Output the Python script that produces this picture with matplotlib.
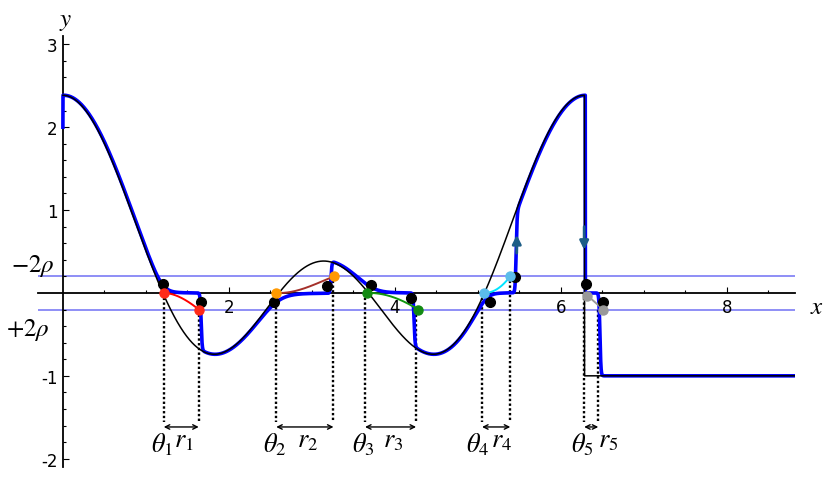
import numpy as np
import matplotlib.pyplot as plt

plt.rcParams['mathtext.fontset'] = 'stix'
plt.rcParams['axes.unicode_minus'] = False

# black curve: f(x) = a1 cos x + a2 cos 2x + c up to x_switch, then constant
cos_coef = [1.0, 1.0]
f_offset = 0.385
x_switch = 2 * np.pi
f_after = -1.0
x_max = 8.82

rho = 0.1
blue_start = 2.0          # blue curve starts here at x = 0

# entry / exit of each slow passage
theta_line = [1.215, 2.57, 3.64, 5.05, 6.28]
r_line = [1.636, 3.26, 4.255, 5.39, 6.45]
side = [1, -1, 1, -1, 1]  # +1: plateau reached from above
jump_x = [1.665, 3.23, 4.23, 5.46, 6.47]   # where blue leaves the plateau

# coloured integral curves and their end points
curve_start = [1.22, 2.567, 3.66, 5.074, 6.2835]
theta_pt = [1.22, 2.567, 3.66, 5.074, 6.32]
r_pt = [1.638, 3.266, 4.282, 5.388, 6.51]
pt_colors = ['#ff2a1a', '#ff9900', '#128a12', '#5bbdea', '#999999']
curve_colors = ['#ff0000', '#a5302a', '#119911', '#00e5ff', '#999999']

# black dots on the blue curve
dot_x = [1.20, 1.66, 2.54, 3.18, 3.71, 4.19, 5.15, 5.45, 6.30, 6.505]
dot_y = [0.11, -0.105, -0.11, 0.08, 0.10, -0.06, -0.11, 0.19, 0.11, -0.11]

# direction arrows on the blue curve: (x, tail y, head y)
arrow_x = [5.468, 6.28]
arrow_tail = [0.48, 0.80]
arrow_head = [0.70, 0.52]

labels_theta = [r'$\theta_%d$' % (i + 1) for i in range(5)]
labels_r = [r'$r_%d$' % (i + 1) for i in range(5)]


def f(x):
    x = np.asarray(x, dtype=float)
    g = cos_coef[0] * np.cos(x) + cos_coef[1] * np.cos(2 * x) + f_offset
    return np.where(x <= x_switch, g, f_after)


# blue curve: follows f with a slight lag, sticks near 0 between theta_i and the jump
lag = 0.01
tau = 0.12
s2 = 0.006
x = np.linspace(0, x_max, 20001)
fl = f(x - lag)
blue = fl.copy()
for i in reversed(range(5)):
    soft = side[i] * tau * np.logaddexp(side[i] * fl / tau, 0)
    u = 0.5 * (1 + np.tanh((x - jump_x[i]) / (2 * s2)))
    blue = soft * (1 - u) + blue * u
bx = np.r_[0, x]
by = np.r_[blue_start, blue]

fig = plt.figure(figsize=(8.31, 4.81), dpi=100)
ax = fig.add_axes([38 / 831, 13 / 481, 757 / 831, 431 / 481])
ax.set_xlim(-0.3, x_max)
ax.set_ylim(-2.1, 3.1)

for s in ['top', 'right']:
    ax.spines[s].set_visible(False)
ax.spines['left'].set_position(('data', 0))
ax.spines['bottom'].set_position(('data', 0))
ax.spines['left'].set_linewidth(1.3)
ax.spines['bottom'].set_linewidth(1.3)

ax.set_xticks([2, 4, 6, 8])
ax.set_xticklabels(['2', '4', '6', '8'])
ax.set_yticks([-2, -1, 1, 2, 3])
ax.set_yticklabels(['-2', '-1', '1', '2', '3'])
ax.set_xticks([v for v in np.arange(0.5, 8.8, 0.5) if v % 2 != 0], minor=True)
ax.set_yticks([v for v in np.round(np.arange(-2, 3.01, 0.2), 1) if v % 1 != 0], minor=True)
ax.tick_params(which='both', direction='in', labelsize=12, width=0.8, pad=4)
ax.tick_params(which='major', length=4.3)
ax.tick_params(which='minor', length=2.5)

# +-2 rho lines
for yv in [2 * rho, -2 * rho]:
    ax.axhline(yv, color='#7b7bf5', lw=1.2, zorder=1)

ax.plot(bx, by, color='#0000ff', lw=2.6, zorder=3, solid_joinstyle='round')
ax.plot(x, f(x), color='black', lw=1.1, zorder=4)

# integral curves, dotted guides and width arrows
for i in range(5):
    xs = np.linspace(curve_start[i], r_pt[i], 300)
    fv = f(xs)
    F = np.r_[0, np.cumsum(0.5 * (fv[1:] + fv[:-1]) * np.diff(xs))]
    target = -side[i] * 2 * rho
    cy = F * target / F[-1]
    ax.plot(xs, cy, color=curve_colors[i], lw=1.4, zorder=5)

    ax.plot([theta_line[i], theta_line[i]], [0, -1.555], color='black', lw=1.7,
            ls=(0, (1, 1)), zorder=2)
    ax.plot([r_line[i], r_line[i]], [target, -1.555], color='black', lw=1.7,
            ls=(0, (1, 1)), zorder=2)
    ax.annotate('', xy=(theta_line[i], -1.617), xytext=(r_line[i], -1.617),
                arrowprops=dict(arrowstyle='<->', color='black', lw=1.0,
                                shrinkA=0, shrinkB=0, mutation_scale=8))
    tx = theta_line[i] - 0.02
    if i == 3:
        tx -= 0.03
    ax.text(tx, -1.916, labels_theta[i], fontsize=19, ha='center', va='baseline')
    rx = 0.5 * (theta_line[i] + r_line[i]) + 0.03
    if i == 3:
        rx += 0.04
    if i == 4:
        rx += 0.17
    ax.text(rx, -1.855, labels_r[i], fontsize=19, ha='center', va='baseline')

    ax.plot(theta_pt[i], np.interp(theta_pt[i], xs, cy), 'o', color=pt_colors[i],
            ms=6.5, zorder=8)
    ax.plot(r_pt[i], target, 'o', color=pt_colors[i], ms=6.5, zorder=8)

ax.plot(dot_x, dot_y, 'o', color='black', ms=7, zorder=7)

for ax_x, t0, t1 in zip(arrow_x, arrow_tail, arrow_head):
    ax.annotate('', xy=(ax_x, t1), xytext=(ax_x, t0),
                arrowprops=dict(arrowstyle='-|>', color='#1d5d86', lw=2,
                                shrinkA=0, shrinkB=0, mutation_scale=13), zorder=9)

ax.text(-0.36, 0.337, r'$-2\rho$', fontsize=18, ha='center', va='center')
ax.text(-0.42, -0.434, r'$+2\rho$', fontsize=18, ha='center', va='center')
ax.text(0.035, 3.29, r'$y$', fontsize=18, ha='center', va='center')
ax.text(9.09, -0.157, r'$x$', fontsize=18, ha='center', va='center')

fig.savefig('out.png', dpi=100)
